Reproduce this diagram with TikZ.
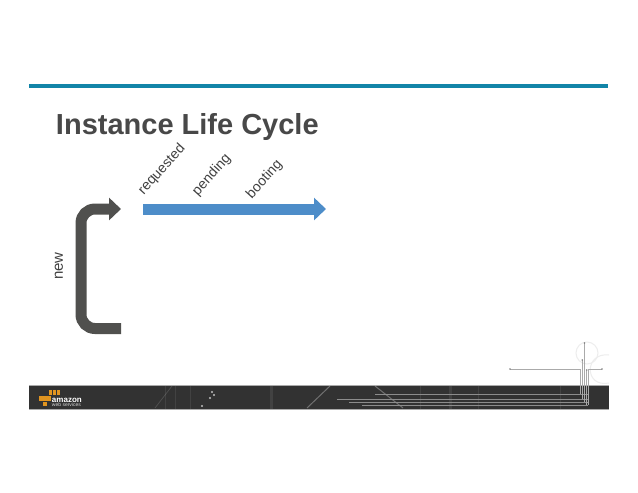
\documentclass[tikz,border=0pt]{standalone}
\usepackage{fontspec}
\setmainfont{Liberation Sans}
\usetikzlibrary{arrows.meta}
\definecolor{barblue}{RGB}{18,133,168}
\definecolor{arrowblue}{RGB}{77,141,201}
\definecolor{arrowgrey}{RGB}{80,80,78}
\definecolor{titlegrey}{RGB}{72,72,72}
\definecolor{bandgrey}{RGB}{50,50,50}
\definecolor{logoorange}{RGB}{224,148,32}
\definecolor{traceline}{RGB}{170,170,170}
\begin{document}
\begin{tikzpicture}[x=1pt,y=-1pt]
\tikzstyle{every node}=[inner sep=0pt,outer sep=0pt,text=black!75];
\tikzstyle{state}=[font=\fontsize{14}{14}\selectfont,rotate=48,anchor=south west];
\tikzstyle{flow}=[line width=11pt,-{Triangle[length=12pt,width=22pt]}];
\tikzstyle{trace}=[traceline,line width=0.7pt];
\tikzstyle{bandtrace}=[black!45,line width=0.7pt];
\tikzstyle{faint}=[black!7,line width=1pt];
\useasboundingbox (0,0) rectangle (638,493);
\fill[white] (0,0) rectangle (638,493);
% top bar
\fill[barblue] (29,83.5) rectangle (608,87.5);
\node[anchor=base west,font=\bfseries\fontsize{29}{29}\selectfont,text=titlegrey] (title) at (56,134) {Instance Life Cycle};
% faint arcs
\draw[faint] (587,353) circle (11);
\draw[faint] (609,355) .. controls (584,352) and (584,388) .. (609,383);
% band
\fill[bandgrey] (29,385) rectangle (609,409);
\draw[traceline,line width=0.8pt] (29,385.5) -- (609,385.5);
\draw[traceline,line width=0.8pt] (29,409) -- (609,409);
\foreach \x/\w in {165/1,175/1,190/1,270/3,420/1,449/3,478/1,560/1}{
	\fill[white,opacity=0.08] (\x,386) rectangle (\x+\w,408.5);
}
\draw[white,opacity=0.15,line width=0.7pt] (155,408) -- (172,386);
\draw[white,opacity=0.3,line width=1pt] (307,408) -- (330,386);
\draw[white,opacity=0.3,line width=1pt] (375,386) -- (403,408);
\foreach \x/\y in {212/392,214/395,210/398,202/406}{
	\fill[white!75!black] (\x,\y) circle (1.2);
}
\foreach \y/\x in {394/375,399/337,402/349,405/362}{
	\draw[bandtrace] (\x,\y) -- (588,\y);
}
\draw[trace] (510,369) -- (580,369);
\draw[trace] (588.5,369) -- (602,369);
\foreach \x/\y/\z in {580/369/394,582.3/360/399,584.5/343/402,586.7/370/405,588.5/369/405}{
	\draw[trace] (\x,\y) -- (\x,\z);
}
\foreach \x/\y in {510/369,602/369,584.5/343,582.3/360,586.7/370}{
	\fill[black!50] (\x,\y) circle (0.9);
}
% logo
\foreach \x/\y in {50.5/392.5,54.5/392.5,58.5/392.5,41/398.5,45/398.5,49/398.5,45/404}{
	\fill[logoorange] (\x-1.7,\y-2.2) rectangle (\x+1.7,\y+2.2);
}
\node[anchor=base west,font=\bfseries\fontsize{8}{8}\selectfont,text=white] (amazon) at (52,402) {amazon};
\node[anchor=base west,font=\fontsize{5}{5}\selectfont,text=white!85!black] (webservices) at (52,406.5) {web services};
% arrows
\coordinate (newstart) at (121,328.5);
\coordinate (newcorner) at (81,328.5);
\coordinate (newtop) at (81,209);
\coordinate (newend) at (121,209);
\coordinate (runstart) at (143,209);
\coordinate (runend) at (326,209);
\draw[flow,arrowgrey,rounded corners=14pt] (newstart) -- (newcorner) -- (newtop) -- (newend);
\draw[flow,arrowblue] (runstart) -- (runend);
% labels
\node[font=\fontsize{15}{15}\selectfont,rotate=90] (new) at (59,266) {new};
\node[state] (requested) at (146,197) {requested};
\node[state] (pending) at (200,198) {pending};
\node[state] (booting) at (254,201) {booting};
\end{tikzpicture}
\end{document}
